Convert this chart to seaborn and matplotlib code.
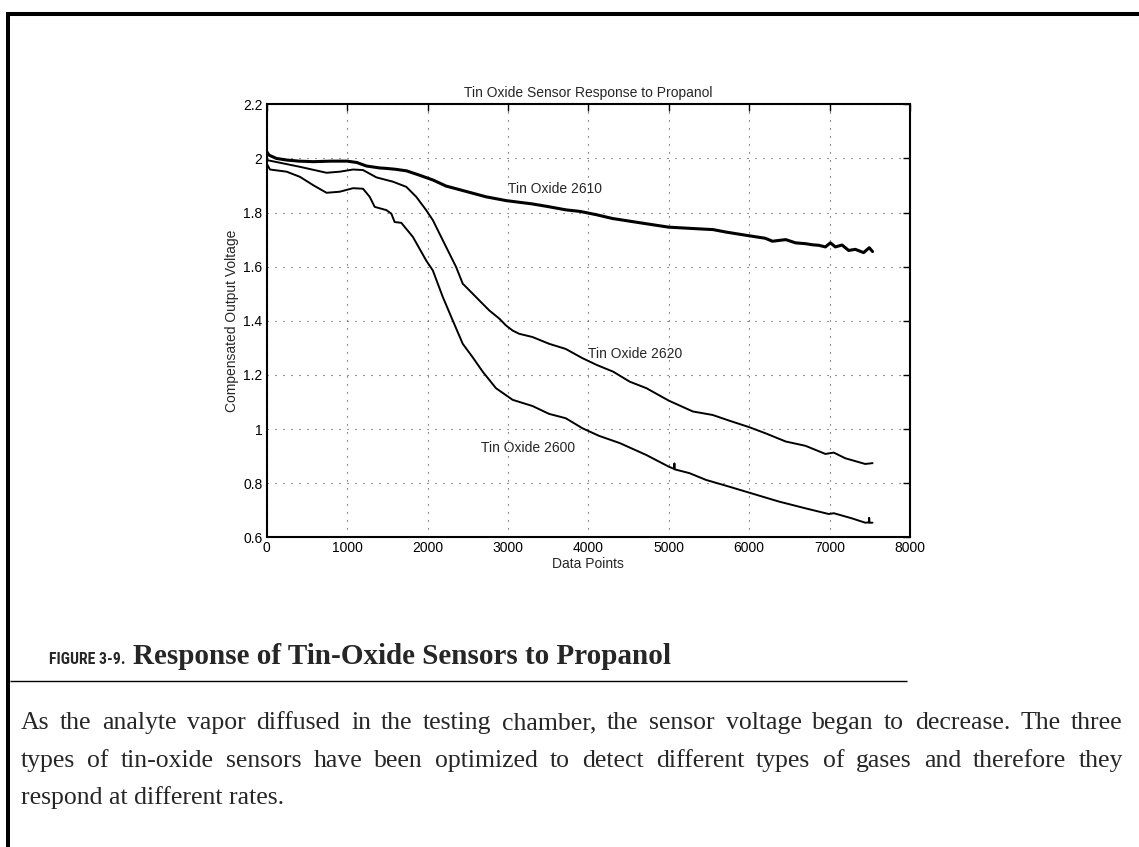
import numpy as np
import pandas as pd
import matplotlib
matplotlib.use("Agg")
import matplotlib.pyplot as plt
from matplotlib.lines import Line2D
from matplotlib import font_manager
import seaborn as sns

# ---------------- data ----------------
x_2610 = [0, 30, 120, 250, 400, 580, 800, 1000, 1120, 1240, 1400, 1490, 1600, 1740,
          1900, 2070, 2230, 2480, 2730, 2980, 3300, 3500, 3720, 3900, 4100, 4300, 4560,
          4800, 5000, 5300, 5550, 5710, 5960, 6200, 6290, 6454, 6577, 6701, 6784, 6866,
          6948, 7010, 7072, 7155, 7237, 7320, 7423, 7493, 7534]
y_2610 = [2.025, 2.012, 2.0, 1.994, 1.99, 1.988, 1.99, 1.99, 1.985, 1.972, 1.965, 1.963,
          1.96, 1.954, 1.938, 1.92, 1.898, 1.878, 1.858, 1.844, 1.832, 1.822, 1.81, 1.804,
          1.792, 1.778, 1.766, 1.755, 1.746, 1.741, 1.737, 1.728, 1.716, 1.705, 1.694,
          1.70, 1.688, 1.685, 1.681, 1.679, 1.673, 1.688, 1.673, 1.68, 1.66, 1.664, 1.652,
          1.67, 1.656]

x_2620 = [0, 413, 744, 909, 1074, 1198, 1364, 1570, 1736, 1860, 1983, 2066, 2231, 2355,
          2438, 2479, 2562, 2645, 2769, 2893, 2975, 3058, 3140, 3306, 3512, 3719, 3926,
          4103, 4309, 4515, 4722, 5000, 5299, 5546, 5753, 6000, 6206, 6454, 6701, 6948,
          7052, 7196, 7443, 7534]
y_2620 = [1.994, 1.969, 1.947, 1.951, 1.959, 1.957, 1.93, 1.914, 1.895, 1.858, 1.809,
          1.772, 1.673, 1.599, 1.537, 1.525, 1.5, 1.475, 1.438, 1.408, 1.383, 1.364,
          1.352, 1.34, 1.315, 1.296, 1.262, 1.237, 1.212, 1.175, 1.151, 1.105, 1.065,
          1.052, 1.031, 1.007, 0.984, 0.954, 0.938, 0.908, 0.913, 0.892, 0.871, 0.874]

x_2600 = [0, 41, 248, 413, 579, 744, 909, 1074, 1198, 1281, 1343, 1488, 1550, 1591, 1674,
          1818, 1983, 2066, 2190, 2314, 2438, 2562, 2686, 2851, 3058, 3306, 3512, 3719,
          3926, 4132, 4392, 4722, 5000, 5065, 5070, 5075, 5258, 5464, 5753, 6000, 6371,
          6701, 6990, 7052, 7278, 7443, 7488, 7492, 7496, 7534]
y_2600 = [1.981, 1.959, 1.951, 1.932, 1.901, 1.873, 1.877, 1.89, 1.888, 1.858, 1.821,
          1.809, 1.796, 1.765, 1.762, 1.71, 1.623, 1.586, 1.488, 1.401, 1.315, 1.265,
          1.212, 1.151, 1.108, 1.085, 1.056, 1.04, 1.003, 0.975, 0.948, 0.904, 0.861,
          0.853, 0.873, 0.851, 0.837, 0.812, 0.787, 0.765, 0.732, 0.707, 0.686, 0.689,
          0.67, 0.654, 0.655, 0.672, 0.654, 0.654]

labels = ["Tin Oxide 2610", "Tin Oxide 2620", "Tin Oxide 2600"]
label_x = [3006, 3990, 2667]
label_y = [1.886, 1.276, 0.929]

x_ticks = [0, 1000, 2000, 3000, 4000, 5000, 6000, 7000, 8000]
y_ticks = [0.6, 0.8, 1.0, 1.2, 1.4, 1.6, 1.8, 2.0, 2.2]
y_tick_labels = ["0.6", "0.8", "1", "1.2", "1.4", "1.6", "1.8", "2", "2.2"]

title = "Tin Oxide Sensor Response to Propanol"
x_label = "Data Points"
y_label = "Compensated Output Voltage"
fig_no = "FIGURE 3-9."
caption = "Response of Tin-Oxide Sensors to Propanol"
paragraph_lines = [
    "As the analyte vapor diffused in the testing chamber, the sensor voltage began to decrease. The three",
    "types of tin-oxide sensors have been optimized to detect different types of gases and therefore they",
    "respond at different rates.",
]

# ---------------- figure ----------------
sns.set_style("white")
plt.rcParams["font.family"] = ["Liberation Sans", "DejaVu Sans"]

W, H = 1139, 847
fig = plt.figure(figsize=(W / 100, H / 100), dpi=100)
fig.patch.set_facecolor("white")

ax_l, ax_r, ax_t, ax_b = 266.7, 910.0, 104.3, 537.3
ax = fig.add_axes([ax_l / W, 1 - ax_b / H, (ax_r - ax_l) / W, (ax_b - ax_t) / H])

df = pd.concat([
    pd.DataFrame({"x": x_2610, "y": y_2610, "sensor": "2610"}),
    pd.DataFrame({"x": x_2620, "y": y_2620, "sensor": "2620"}),
    pd.DataFrame({"x": x_2600, "y": y_2600, "sensor": "2600"}),
])
widths = {"2610": 2.2, "2620": 1.4, "2600": 1.4}
for s in ["2620", "2600", "2610"]:
    sns.lineplot(data=df[df.sensor == s], x="x", y="y", color="black",
                 linewidth=widths[s], estimator=None, sort=False, ax=ax)

ax.set_xlim(0, 8000)
ax.set_ylim(0.6, 2.2)
ax.set_xticks(x_ticks)
ax.set_xticklabels([str(v) for v in x_ticks])
ax.set_yticks(y_ticks)
ax.set_yticklabels(y_tick_labels)
ax.grid(True, linestyle=(0, (1, 6.2)), color="#444444", linewidth=0.8)
ax.tick_params(direction="in", length=5, width=1, top=True, right=True,
               labelsize=10, pad=3, colors="black")
for sp in ax.spines.values():
    sp.set_visible(True)
    sp.set_linewidth(1.5)
    sp.set_color("black")

ax.set_title(title, fontsize=10, pad=5)
ax.set_xlabel(x_label, fontsize=10, labelpad=1)
ax.set_ylabel(y_label, fontsize=10, labelpad=3)

for lab, lx, ly in zip(labels, label_x, label_y):
    ax.text(lx, ly, lab, fontsize=10, ha="left", va="center")

# ---------------- page decorations ----------------
def fx(px):
    return px / W

def fy(py):
    return 1 - py / H

fig.add_artist(Line2D([fx(6), fx(W)], [fy(14), fy(14)], transform=fig.transFigure,
                      color="black", linewidth=2.9, solid_capstyle="butt"))
fig.add_artist(Line2D([fx(8), fx(8)], [fy(12), fy(H)], transform=fig.transFigure,
                      color="black", linewidth=2.9, solid_capstyle="butt"))
fig.add_artist(Line2D([fx(10), fx(907)], [fy(680.5), fy(680.5)], transform=fig.transFigure,
                      color="black", linewidth=1.0, solid_capstyle="butt"))

renderer = fig.canvas.get_renderer()

# pick the narrowest available bold sans for the figure number
def pick_condensed_bold():
    prefs = [("Liberation Sans Narrow", None), ("Arial Narrow", None),
             ("Roboto Condensed", None), ("Noto Sans", "condensed"),
             ("Open Sans", "condensed"), ("Asap Condensed", None)]
    for name, stretch in prefs:
        for f in font_manager.fontManager.ttflist:
            if f.name != name:
                continue
            if f.weight not in (700, "bold"):
                continue
            if stretch is not None and f.stretch != stretch:
                continue
            return f.fname
    return None

fpath = pick_condensed_bold()
if fpath:
    fprop = font_manager.FontProperties(fname=fpath, size=12)
else:
    fprop = font_manager.FontProperties(family="Liberation Sans", weight="bold", size=12)
fn = fig.text(fx(49), fy(664), fig_no, fontproperties=fprop, va="baseline", ha="left")
fn.set_fontsize(12 * 76 / fn.get_window_extent(renderer).width)

fig.text(fx(133), fy(664), caption, family="Liberation Serif",
         weight="bold", fontsize=21, va="baseline", ha="left")

para_kw = dict(family="Liberation Serif", fontsize=18.5, va="baseline", ha="left")
baselines = [729, 767, 804]
x0, x1 = 21, 1123
for i, (line, yb) in enumerate(zip(paragraph_lines, baselines)):
    last = i == len(paragraph_lines) - 1
    if last:
        fig.text(fx(x0), fy(yb), line, **para_kw)
        continue
    words = line.split(" ")
    ts = [fig.text(fx(x0), fy(yb), w, **para_kw) for w in words]
    ws = [t.get_window_extent(renderer).width for t in ts]
    gap = (x1 - x0 - sum(ws)) / (len(words) - 1)
    xc = x0
    for t, w in zip(ts, ws):
        t.set_x(fx(round(xc)))
        xc += w + gap

fig.savefig("out.png", dpi=100, facecolor="white")
